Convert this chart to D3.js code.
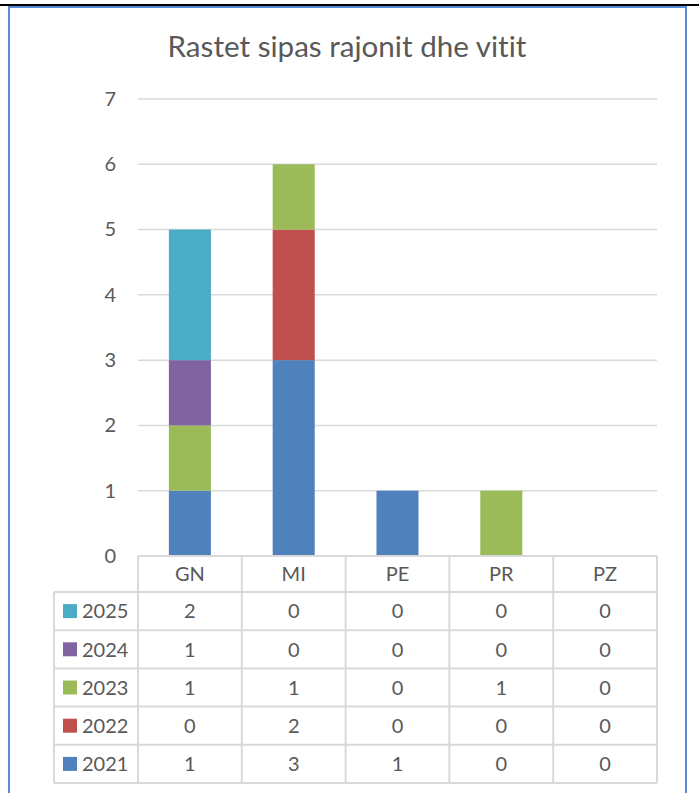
<!DOCTYPE html>
<html>
<head>
<meta charset="utf-8">
<script src="https://cdn.jsdelivr.net/npm/d3@7"></script>
<style>
  html, body { margin: 0; padding: 0; background: #fff; }
  svg { display: block; }
  text { font-family: Lato, "Open Sans", sans-serif; fill: #595959; font-variant-ligatures: none; }
</style>
</head>
<body>
<svg id="chart" width="699" height="793"></svg>
<script>
// ---- data ----
const title = "Rastet sipas rajonit dhe vitit";
const categories = ["GN", "MI", "PE", "PR", "PZ"];
const years = ["2021", "2022", "2023", "2024", "2025"];
const v2021 = [1, 3, 1, 0, 0];
const v2022 = [0, 2, 0, 0, 0];
const v2023 = [1, 1, 0, 1, 0];
const v2024 = [1, 0, 0, 0, 0];
const v2025 = [2, 0, 0, 0, 0];
const yTicks = [0, 1, 2, 3, 4, 5, 6, 7];
const colors = ["#4F81BD", "#C0504D", "#9BBB59", "#8064A2", "#4BACC6"];

const seriesValues = [v2021, v2022, v2023, v2024, v2025];
const rows = categories.map((c, i) => {
  const r = { cat: c };
  years.forEach((y, k) => r[y] = seriesValues[k][i]);
  return r;
});

const svg = d3.select("#chart");

// frame
svg.append("rect").attr("x", 0).attr("y", 4).attr("width", 699).attr("height", 2).attr("fill", "#000");
svg.append("rect").attr("x", 9).attr("y", 7).attr("width", 677).attr("height", 820)
  .attr("fill", "none").attr("stroke", "#5B8BD3").attr("stroke-width", 2);

// scales
const x = d3.scaleBand().domain(categories).range([138, 657]).paddingInner(0.595).paddingOuter(0.2975);
const y = d3.scaleLinear().domain([0, 7]).range([556, 99]);
const color = d3.scaleOrdinal().domain(years).range(colors);

// title (fit to reference width)
const t = svg.append("text").attr("x", 347).attr("y", 57).attr("text-anchor", "middle")
  .style("font-size", "100px").style("font-weight", 400).text(title);
const w100 = t.node().getComputedTextLength();
t.style("font-size", (100 * 359 / w100) + "px");

// gridlines
svg.append("g").selectAll("line").data(yTicks.filter(d => d > 0)).join("line")
  .attr("x1", 138).attr("x2", 657)
  .attr("y1", d => y(d)).attr("y2", d => y(d))
  .attr("stroke", "#D9D9D9").attr("stroke-width", 1.5);

// y axis labels
const yAxis = d3.axisLeft(y).tickValues(yTicks).tickSize(0).tickPadding(0).tickFormat(d3.format("d"));
const gy = svg.append("g").attr("transform", "translate(116,0)").call(yAxis);
gy.select(".domain").remove();
gy.selectAll("text").style("font-size", "20px").attr("fill", "#595959")
  .style("font-family", "Lato, 'Open Sans', sans-serif");

// stacked bars
const stack = d3.stack().keys(years);
const stacked = stack(rows);
svg.append("g").selectAll("g").data(stacked).join("g")
  .attr("fill", d => color(d.key))
  .selectAll("rect").data(d => d).join("rect")
  .attr("x", d => x(d.data.cat))
  .attr("width", x.bandwidth())
  .attr("y", d => y(d[1]))
  .attr("height", d => y(d[0]) - y(d[1]));

// data table
const gridColor = "#D9D9D9";
const headTop = 556, headBottom = 592;
const rowH = (783 - 592) / years.length;
const tableLeft = 54;
const colStep = x.step();
const colEdges = categories.map((c, i) => 138 + i * colStep).concat([657]);
const tbl = svg.append("g");
const tableYears = years.slice().reverse();

// horizontal lines
tbl.append("line").attr("x1", 138).attr("x2", 657).attr("y1", headTop).attr("y2", headTop)
  .attr("stroke", gridColor).attr("stroke-width", 2);
tableYears.forEach((yr, i) => {
  tbl.append("line").attr("x1", tableLeft).attr("x2", 657)
    .attr("y1", headBottom + i * rowH).attr("y2", headBottom + i * rowH)
    .attr("stroke", gridColor).attr("stroke-width", 2);
});
tbl.append("line").attr("x1", tableLeft).attr("x2", 657).attr("y1", 783).attr("y2", 783)
  .attr("stroke", gridColor).attr("stroke-width", 2);
// vertical lines
colEdges.forEach(xe => {
  tbl.append("line").attr("x1", xe).attr("x2", xe).attr("y1", headTop).attr("y2", 783)
    .attr("stroke", gridColor).attr("stroke-width", 2);
});
tbl.append("line").attr("x1", tableLeft).attr("x2", tableLeft).attr("y1", headBottom).attr("y2", 783)
  .attr("stroke", gridColor).attr("stroke-width", 2);

// header labels
tbl.selectAll("text.hdr").data(categories).join("text").attr("class", "hdr")
  .attr("x", d => x(d) + x.bandwidth() / 2)
  .attr("y", (headTop + headBottom) / 2)
  .attr("dy", "0.36em").attr("text-anchor", "middle")
  .style("font-size", "20px").text(d => d);

// rows
tableYears.forEach((yr, i) => {
  const cy = headBottom + i * rowH + rowH / 2;
  const k = years.indexOf(yr);
  tbl.append("rect").attr("x", 63).attr("y", cy - 7).attr("width", 14).attr("height", 14)
    .attr("fill", color(yr));
  tbl.append("text").attr("x", 82).attr("y", cy).attr("dy", "0.36em")
    .style("font-size", "20px").text(yr);
  tbl.selectAll("text.v" + yr).data(categories).join("text").attr("class", "v" + yr)
    .attr("x", d => x(d) + x.bandwidth() / 2)
    .attr("y", cy).attr("dy", "0.36em").attr("text-anchor", "middle")
    .style("font-size", "20px")
    .text((d, j) => seriesValues[k][j]);
});
</script>
</body>
</html>
